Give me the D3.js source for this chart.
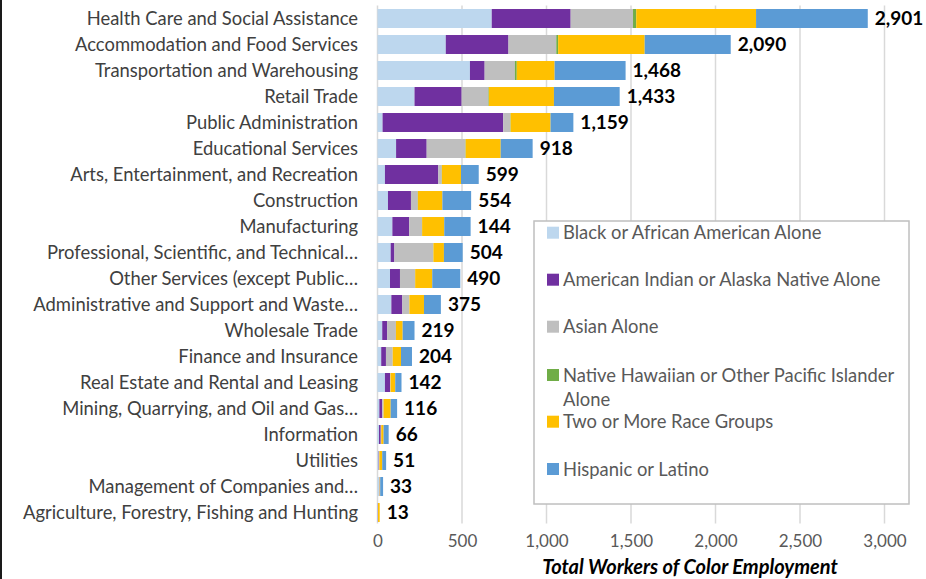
<!DOCTYPE html>
<html><head><meta charset="utf-8">
<script src="https://cdn.jsdelivr.net/npm/d3@7"></script>
<style>
html,body{margin:0;padding:0;background:#fff;}
svg{display:block;font-family:Lato, "Open Sans", sans-serif;}
</style></head>
<body>
<svg id="chart" width="926" height="579"></svg>
<script>
const categories = [
  "Health Care and Social Assistance",
  "Accommodation and Food Services",
  "Transportation and Warehousing",
  "Retail Trade",
  "Public Administration",
  "Educational Services",
  "Arts, Entertainment, and Recreation",
  "Construction",
  "Manufacturing",
  "Professional, Scientific, and Technical…",
  "Other Services (except Public…",
  "Administrative and Support and Waste…",
  "Wholesale Trade",
  "Finance and Insurance",
  "Real Estate and Rental and Leasing",
  "Mining, Quarrying, and Oil and Gas…",
  "Information",
  "Utilities",
  "Management of Companies and…",
  "Agriculture, Forestry, Fishing and Hunting"
];
const seriesNames = [
  "Black or African American Alone",
  "American Indian or Alaska Native Alone",
  "Asian Alone",
  "Native Hawaiian or Other Pacific Islander Alone",
  "Two or More Race Groups",
  "Hispanic or Latino"
];
const black    = [676, 404, 547, 219,  30, 110,  44,  62,  88,  78,  74,  82, 28, 22, 44, 11,  9,  7,  9,  2];
const aian     = [467, 371,  87, 279, 714, 181, 316, 136, 100,  22,  59,  65, 30, 28, 30, 17, 10,  2,  2,  1];
const asian    = [369, 283, 179, 158,  42, 229,  20,  40,  75, 230,  89,  41, 51, 40,  3,  8,  3,  2,  2,  0];
const nhpi     = [ 19,  11,  11,   3,   2,   2,   1,   1,   1,   1,   1,   1,  0,  0,  0,  0,  0,  0,  0,  0];
const twoPlus  = [709, 512, 224, 385, 236, 207, 113, 145, 131,  62, 101,  86, 40, 49, 28, 42, 14, 17,  3, 10];
const hispanic = [661, 509, 420, 389, 135, 189, 105, 170, 156, 111, 166, 100, 70, 65, 37, 38, 30, 23, 17,  0];
const totalLabels = ["2,901","2,090","1,468","1,433","1,159","918","599","554","144","504","490","375","219","204","142","116","66","51","33","13"];
const xTicks = [0, 500, 1000, 1500, 2000, 2500, 3000];
const colors = ["#bdd7ee", "#7030a0", "#bfbfbf", "#70ad47", "#ffc000", "#5b9bd5"];

const keys = ["black","aian","asian","nhpi","twoPlus","hispanic"];
const seriesArrays = [black, aian, asian, nhpi, twoPlus, hispanic];
const rows = categories.map((c, i) => {
  const r = {cat: c, label: totalLabels[i]};
  keys.forEach((k, j) => r[k] = seriesArrays[j][i]);
  return r;
});

const svg = d3.select("#chart");
const margin = {left: 377.5, right: 41.5, top: 5.5, bottom: 53.5};
const W = 926, H = 579;

const x = d3.scaleLinear().domain([0, 3000]).range([margin.left, W - margin.right]);
const y = d3.scaleBand().domain(categories).range([margin.top, H - margin.bottom]).paddingInner(0.27).paddingOuter(0.135);

// left frame line
svg.append("rect").attr("x", 0).attr("y", 0).attr("width", 2).attr("height", H).attr("fill", "#1a1a1a");

// gridlines
svg.append("g").selectAll("line").data(xTicks).join("line")
  .attr("x1", d => x(d)).attr("x2", d => x(d))
  .attr("y1", margin.top).attr("y2", H - margin.bottom - 2)
  .attr("stroke", "#d9d9d9").attr("stroke-width", 1.5);

// stacked bars
const stack = d3.stack().keys(keys);
const stacked = stack(rows);
svg.append("g").selectAll("g").data(stacked).join("g")
  .attr("fill", (d, i) => colors[i])
  .selectAll("rect").data(d => d).join("rect")
  .attr("x", d => x(d[0]))
  .attr("width", d => Math.max(0, x(d[1]) - x(d[0])))
  .attr("y", d => y(d.data.cat))
  .attr("height", y.bandwidth());

// value labels
svg.append("g").selectAll("text").data(rows).join("text")
  .attr("x", d => x(keys.reduce((s, k) => s + d[k], 0)) + 7)
  .attr("y", d => y(d.cat) + y.bandwidth() / 2)
  .attr("dy", "0.36em")
  .attr("font-size", "19px").attr("font-weight", "bold").attr("fill", "#000")
  .text(d => d.label);

// category labels
svg.append("g").selectAll("text").data(categories).join("text")
  .attr("x", 358)
  .attr("y", d => y(d) + y.bandwidth() / 2)
  .attr("dy", "0.36em")
  .attr("text-anchor", "end")
  .attr("font-size", "18.4px").attr("fill", "#404040")
  .text(d => d);

// x axis tick labels
const xAxis = d3.axisBottom(x).tickValues(xTicks).tickSize(0).tickPadding(0).tickFormat(d3.format(","));
const ax = svg.append("g").attr("transform", `translate(0, ${H - margin.bottom + 9})`).call(xAxis);
ax.select(".domain").remove();
ax.selectAll("text").attr("font-size", "17px").attr("fill", "#595959").attr("font-family", "Lato, sans-serif").attr("dy", "0.71em");

// axis title
svg.append("text")
  .attr("x", 690).attr("y", 574)
  .attr("text-anchor", "middle")
  .attr("font-size", "20px").attr("font-weight", "bold").attr("font-style", "italic").attr("fill", "#000")
  .text("Total Workers of Color Employment");

// legend
const lg = svg.append("g");
lg.append("rect").attr("x", 534).attr("y", 221).attr("width", 375).attr("height", 283)
  .attr("fill", "#fff").attr("stroke", "#bfbfbf").attr("stroke-width", 1.5);
const legendY = [232.7, 279.7, 326.7, 375, 421.7, 469];
seriesNames.forEach((name, i) => {
  const g = lg.append("g").attr("transform", `translate(547, ${legendY[i]})`);
  g.append("rect").attr("x", 0).attr("y", -6).attr("width", 12).attr("height", 12).attr("fill", colors[i]);
  const t = g.append("text").attr("x", 16).attr("y", 0).attr("dy", "0.36em")
    .attr("font-size", "18.4px").attr("fill", "#595959");
  if (i === 3) {
    t.append("tspan").attr("x", 16).text("Native Hawaiian or Other Pacific Islander");
    t.append("tspan").attr("x", 16).attr("dy", "1.3em").text("Alone");
  } else {
    t.text(name);
  }
});
</script>
</body></html>
